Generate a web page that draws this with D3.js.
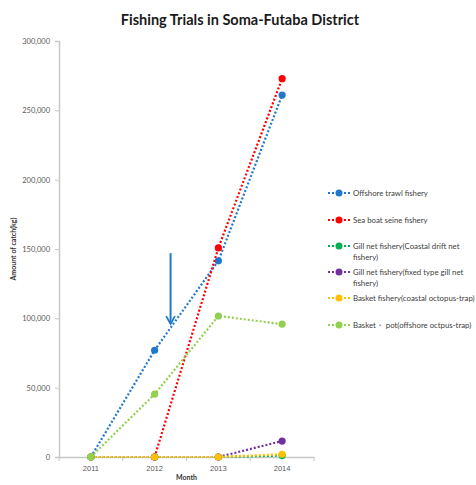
<!DOCTYPE html>
<html>
<head>
<meta charset="utf-8">
<script src="https://cdn.jsdelivr.net/npm/d3@7"></script>
<style>
  body { margin: 0; background: #fff; }
  svg { font-family: Lato, "Open Sans", sans-serif; }
</style>
</head>
<body>
<svg width="476" height="485"></svg>
<script>
var years = ["2011", "2012", "2013", "2014"];
var seriesNames = [
  "Offshore trawl fishery",
  "Sea boat seine fishery",
  "Gill net fishery(Coastal drift net fishery)",
  "Gill net fishery(fixed type gill net fishery)",
  "Basket fishery(coastal octopus-trap)",
  "Basket・ pot(offshore octpus-trap)"
];
var offshoreTrawl = [0, 77000, 141500, 261000];
var seaBoatSeine = [null, 0, 150800, 272800];
var gillNetDrift = [0, 0, 0, 1000];
var gillNetFixed = [0, 0, 0, 11500];
var basketCoastal = [0, 0, 0, 2000];
var basketPot = [0, 45300, 101700, 95800];
var yTicks = [0, 50000, 100000, 150000, 200000, 250000, 300000];
// arrow annotation (value range it spans)
var arrowFrom = 147000, arrowTo = 96000;

var colors = ["#1f78cc", "#ff0000", "#00b050", "#7030a0", "#ffc000", "#92d050"];
var allValues = [offshoreTrawl, seaBoatSeine, gillNetDrift, gillNetFixed, basketCoastal, basketPot];

var series = seriesNames.map(function(name, i) {
  return {
    name: name,
    color: colors[i],
    values: years.map(function(y, j) { return {year: y, value: allValues[i][j]}; })
  };
});

var svg = d3.select("svg"),
    margin = {top: 41, right: 162, bottom: 28, left: 59},
    width = 476 - margin.left - margin.right,
    height = 485 - margin.top - margin.bottom,
    g = svg.append("g").attr("transform", "translate(" + margin.left + "," + margin.top + ")");

var x = d3.scaleBand().domain(years).range([0, width]),
    y = d3.scaleLinear().domain([0, 300000]).range([height, 0]);

svg.append("text")
  .attr("x", 240).attr("y", 25)
  .attr("text-anchor", "middle")
  .style("font-size", "14.5px").style("font-weight", "bold").style("fill", "#1a1a1a")
  .text("Fishing Trials in Soma-Futaba District");

// y axis
var yAxis = g.append("g")
  .call(d3.axisLeft(y).tickValues(yTicks).tickSize(4).tickPadding(5)
    .tickFormat(d3.format(",")));
yAxis.select(".domain").attr("stroke", "#c8c8c8").attr("stroke-width", 1.5);
yAxis.selectAll(".tick line").attr("stroke", "#c8c8c8");
yAxis.selectAll("text").style("font-size", "7.5px").style("fill", "#595959")
  .style("font-family", "Lato, sans-serif");

// x axis
var xAxis = g.append("g")
  .attr("transform", "translate(0," + height + ")")
  .call(d3.axisBottom(x).tickSize(0).tickPadding(9));
xAxis.select(".domain").attr("stroke", "#c8c8c8").attr("stroke-width", 1.5);
xAxis.selectAll("text").style("font-size", "7.5px").style("fill", "#595959");
xAxis.selectAll(".bound")
  .data(years.concat(["end"]))
  .enter().append("line")
  .attr("x1", function(d, i) { return i * x.bandwidth(); })
  .attr("x2", function(d, i) { return i * x.bandwidth(); })
  .attr("y1", 0).attr("y2", 4)
  .attr("stroke", "#c8c8c8");

svg.append("text")
  .attr("transform", "translate(16," + (margin.top + height / 2) + ") rotate(-90)")
  .attr("text-anchor", "middle")
  .style("font-size", "7px").style("font-weight", "bold").style("fill", "#333")
  .text("Amount of catch(kg)");

svg.append("text")
  .attr("x", margin.left + x("2012") + x.bandwidth()).attr("y", 480)
  .attr("text-anchor", "middle")
  .style("font-size", "7px").style("font-weight", "bold").style("fill", "#333")
  .text("Month");

var line = d3.line()
  .defined(function(d) { return d.value !== null; })
  .x(function(d) { return x(d.year) + x.bandwidth() / 2; })
  .y(function(d) { return y(d.value); });

var s = g.selectAll(".series")
  .data(series)
  .enter().append("g")
  .attr("class", "series");

s.append("path")
  .attr("d", function(d) { return line(d.values); })
  .attr("fill", "none")
  .attr("stroke", function(d) { return d.color; })
  .attr("stroke-width", 2.2)
  .attr("stroke-dasharray", "2,2");

s.selectAll("circle")
  .data(function(d) { return d.values.filter(function(v) { return v.value !== null; })
    .map(function(v) { return {year: v.year, value: v.value, color: d.color}; }); })
  .enter().append("circle")
  .attr("cx", function(d) { return x(d.year) + x.bandwidth() / 2; })
  .attr("cy", function(d) { return y(d.value); })
  .attr("r", 3.6)
  .attr("fill", function(d) { return d.color; });

// arrow
var ax = x("2012") + x.bandwidth() * 0.75;
g.append("defs").append("marker")
  .attr("id", "ah").attr("viewBox", "0 0 10 10")
  .attr("refX", 8).attr("refY", 5)
  .attr("markerWidth", 5.5).attr("markerHeight", 5.5)
  .attr("orient", "auto")
  .append("path").attr("d", "M1,1 L8,5 L1,9").attr("fill", "none")
  .attr("stroke", "#1f78cc").attr("stroke-width", 1.6);
g.append("line")
  .attr("x1", ax).attr("x2", ax)
  .attr("y1", y(arrowFrom)).attr("y2", y(arrowTo))
  .attr("stroke", "#1f78cc").attr("stroke-width", 2)
  .attr("marker-end", "url(#ah)");

// legend
var legendY = [193, 220, 246, 272, 298, 325];
var lg = svg.selectAll(".legend")
  .data(series)
  .enter().append("g")
  .attr("class", "legend")
  .attr("transform", function(d, i) { return "translate(328," + legendY[i] + ")"; });

lg.append("line")
  .attr("x1", 0).attr("x2", 22)
  .attr("stroke", function(d) { return d.color; })
  .attr("stroke-width", 2)
  .attr("stroke-dasharray", "2,2");
lg.append("circle").attr("cx", 11).attr("r", 3.5)
  .attr("fill", function(d) { return d.color; });

lg.each(function(d) {
  var t = d3.select(this).append("text")
    .attr("x", 25).attr("y", 3)
    .style("font-size", "7.8px").style("fill", "#404040");
  var parts = d.name.indexOf("(Coastal drift") > 0 ? ["Gill net fishery(Coastal drift net", "fishery)"]
    : d.name.indexOf("(fixed") > 0 ? ["Gill net fishery(fixed type gill net", "fishery)"]
    : [d.name];
  parts.forEach(function(p, i) {
    t.append("tspan").attr("x", 25).attr("dy", i ? 11 : 0).text(p);
  });
});
</script>
</body>
</html>
